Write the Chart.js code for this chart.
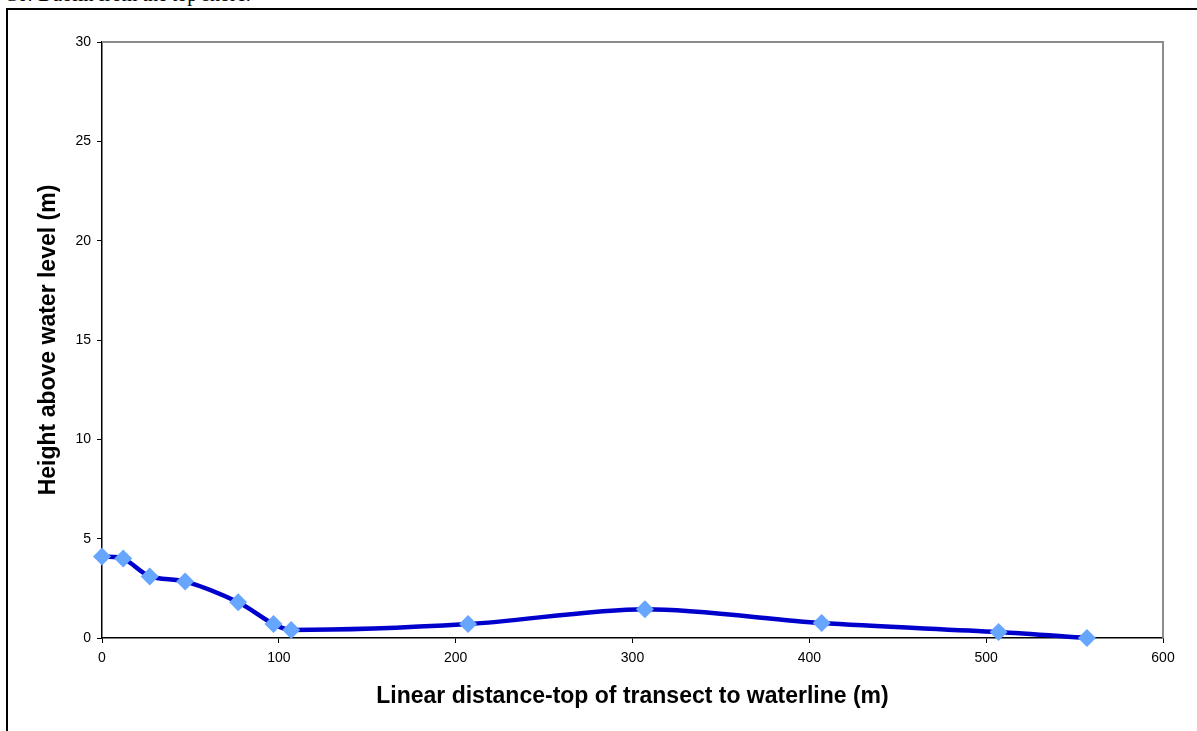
<!DOCTYPE html>
<html>
<head>
<meta charset="utf-8">
<script src="https://cdn.jsdelivr.net/npm/chart.js@4"></script>
<style>
  html, body { margin:0; padding:0; background:#fff; overflow:hidden; }
  #cap { position:absolute; left:4px; top:-17px; font:20px "Liberation Serif", "Times New Roman", serif; color:#000; white-space:nowrap; }
  #frame { position:absolute; left:6px; top:8px; width:1200px; height:740px; border-top:2px solid #000; border-left:2px solid #000; }
  #wrap { position:absolute; left:0; top:0; width:1197px; height:731px; }
</style>
</head>
<body>
<div id="cap">C6: Duolin from the top shore.</div>
<div id="frame"></div>
<div id="wrap"><canvas id="c"></canvas></div>
<script>
// distance from top of transect (m) and height above water (m)
const distance = [0, 12, 27, 47, 77, 97, 107, 207, 307, 407, 507, 557]
const height   = [4.1, 4.0, 3.1, 2.85, 1.8, 0.7, 0.4, 0.7, 1.45, 0.75, 0.3, 0]
const xTicks = [0, 100, 200, 300, 400, 500, 600]
const yTicks = [0, 5, 10, 15, 20, 25, 30]

const plotBox = {
	id: 'plotBox',
	beforeDatasetsDraw: ch => {
		const a = ch.chartArea, x = ch.ctx
		x.save()
		x.strokeStyle = '#8c8c8c'
		x.lineWidth = 2
		x.beginPath()
		x.moveTo(a.left, a.top)
		x.lineTo(a.right, a.top)
		x.lineTo(a.right, a.bottom)
		x.stroke()
		x.restore()
	}
}

const tickFont = { family: '"Liberation Sans", Arial, sans-serif', size: 14 }
const titleFont = { family: '"Liberation Sans", Arial, sans-serif', size: 23, weight: 'bold' }

new Chart(document.getElementById('c'), {
	type: 'line',
	data: {
		datasets: [{
			data: distance.map((d, i) => ({ x: d, y: height[i] })),
			borderColor: '#0000cc',
			borderWidth: 4.5,
			backgroundColor: '#66a6ff',
			pointBackgroundColor: '#66a6ff',
			pointBorderColor: '#66a6ff',
			pointBorderWidth: 0,
			pointStyle: 'rectRot',
			pointRadius: 9,
			tension: 0.3,
			fill: false,
			clip: false,
		}]
	},
	options: {
		responsive: true,
		maintainAspectRatio: false,
		animation: false,
		layout: { padding: { left: 35, right: 34, top: 42, bottom: 21 } },
		plugins: { legend: { display: false }, tooltip: { enabled: false } },
		scales: {
			x: {
				type: 'linear',
				min: 0, max: 600,
				afterBuildTicks: s => { s.ticks = xTicks.map(v => ({ value: v })) },
				afterFit: s => { s.height = 72 },
				border: { color: '#000', width: 1.5 },
				grid: { drawOnChartArea: false, drawTicks: true, tickLength: 5, color: '#000' },
				ticks: { color: '#000', font: tickFont, padding: 7, maxRotation: 0 },
				title: { display: true, text: 'Linear distance-top of transect to waterline (m)', color: '#000', font: titleFont, padding: 0 }
			},
			y: {
				min: 0, max: 30,
				afterBuildTicks: s => { s.ticks = yTicks.map(v => ({ value: v })) },
				afterFit: s => { s.width = 67 },
				border: { color: '#000', width: 1.5 },
				grid: { drawOnChartArea: false, drawTicks: true, tickLength: 5, color: '#000' },
				ticks: { color: '#000', font: tickFont, padding: 6 },
				title: { display: true, text: 'Height above water level (m)', color: '#000', font: titleFont, padding: 0 }
			}
		}
	},
	plugins: [plotBox]
})
</script>
</body>
</html>
